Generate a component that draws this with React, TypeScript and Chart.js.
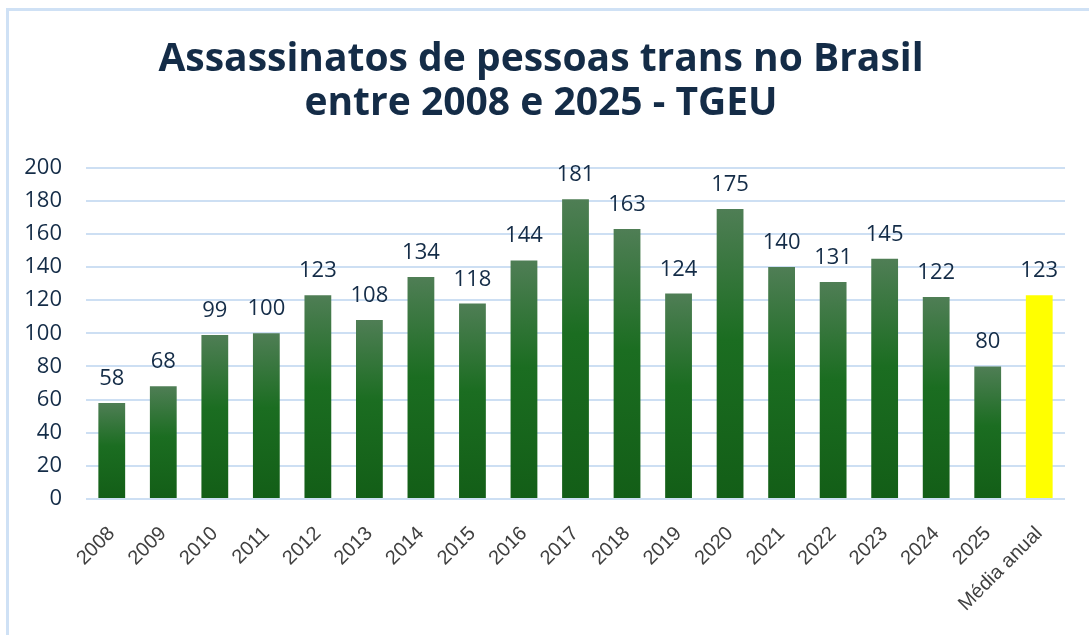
import React, { useEffect, useRef } from "react";
import { Chart, registerables } from "chart.js";

Chart.register(...registerables);

const categories = [
  "2008", "2009", "2010", "2011", "2012", "2013", "2014", "2015", "2016",
  "2017", "2018", "2019", "2020", "2021", "2022", "2023", "2024", "2025", "Média anual",
];
const values = [58, 68, 99, 100, 123, 108, 134, 118, 144, 181, 163, 124, 175, 140, 131, 145, 122, 80, 123];
const titleLines = ["Assassinatos de pessoas trans no Brasil", "entre 2008 e 2025 - TGEU"];
const yMin = 0;
const yMax = 200;
const yStep = 20;

const NAVY = "#142c47";
const GRID = "#cddff3";

const valueLabels = {
  id: "valueLabels",
  afterDatasetsDraw(chart: any) {
    const ctx = chart.ctx;
    const meta = chart.getDatasetMeta(0);
    ctx.save();
    ctx.font = "22px 'Open Sans'";
    ctx.fillStyle = NAVY;
    ctx.textAlign = "center";
    ctx.textBaseline = "alphabetic";
    meta.data.forEach((bar: any, i: number) => {
      ctx.fillText(String(values[i]), bar.x, bar.y - 18);
    });
    ctx.restore();
  },
};

export default function App() {
  const ref = useRef<HTMLCanvasElement | null>(null);
  useEffect(() => {
    if (!ref.current) return;
    const chart = new Chart(ref.current, {
      type: "bar",
      data: {
        labels: categories,
        datasets: [
          {
            data: values,
            backgroundColor: (c: any) => {
              if (c.dataIndex === categories.length - 1) return "#ffff00";
              const ch = c.chart;
              if (!ch.chartArea || c.raw === undefined) return "#1a6e20";
              const top = ch.scales.y.getPixelForValue(c.raw);
              const bottom = ch.scales.y.getPixelForValue(0);
              const g = ch.ctx.createLinearGradient(0, top, 0, bottom);
              g.addColorStop(0, "#4f7e55");
              g.addColorStop(0.45, "#1b6d21");
              g.addColorStop(1, "#135e17");
              return g;
            },
            barPercentage: 0.52,
            categoryPercentage: 1,
          },
        ],
      },
      options: {
        responsive: false,
        animation: false,
        layout: { padding: { left: 17, right: 24, top: 0, bottom: 4 } },
        plugins: {
          legend: { display: false },
          tooltip: { enabled: false },
          title: {
            display: true,
            text: titleLines,
            color: NAVY,
            font: { family: "'Open Sans'", size: 39, weight: "bold", lineHeight: 1.15 },
            padding: { top: 37, bottom: 41 },
          },
        },
        scales: {
          x: {
            grid: { display: false },
            border: { display: false },
            ticks: {
              autoSkip: false,
              maxRotation: 45,
              minRotation: 45,
              color: "#404040",
              font: { family: "'Liberation Sans'", size: 20 },
              padding: 15,
            },
          },
          y: {
            min: yMin,
            max: yMax,
            border: { display: false },
            grid: { color: GRID, lineWidth: 2, drawTicks: false },
            ticks: {
              stepSize: yStep,
              color: NAVY,
              font: { family: "'Open Sans'", size: 22 },
              padding: 24,
            },
            afterFit: (s: any) => {
              s.width = 69;
            },
          },
        },
      },
      plugins: [valueLabels],
    });
    return () => chart.destroy();
  }, []);

  return (
    <div style={{ position: "fixed", left: 0, top: 0, width: 1089, height: 635, overflow: "hidden", background: "#fff" }}>
      <div
        style={{
          position: "absolute",
          left: 6,
          top: 8,
          width: 1200,
          height: 800,
          borderTop: "3px solid #cfe1f5",
          borderLeft: "3px solid #cfe1f5",
        }}
      />
      <canvas ref={ref} width={1089} height={635} style={{ position: "absolute", left: 0, top: 0 }} />
    </div>
  );
}
